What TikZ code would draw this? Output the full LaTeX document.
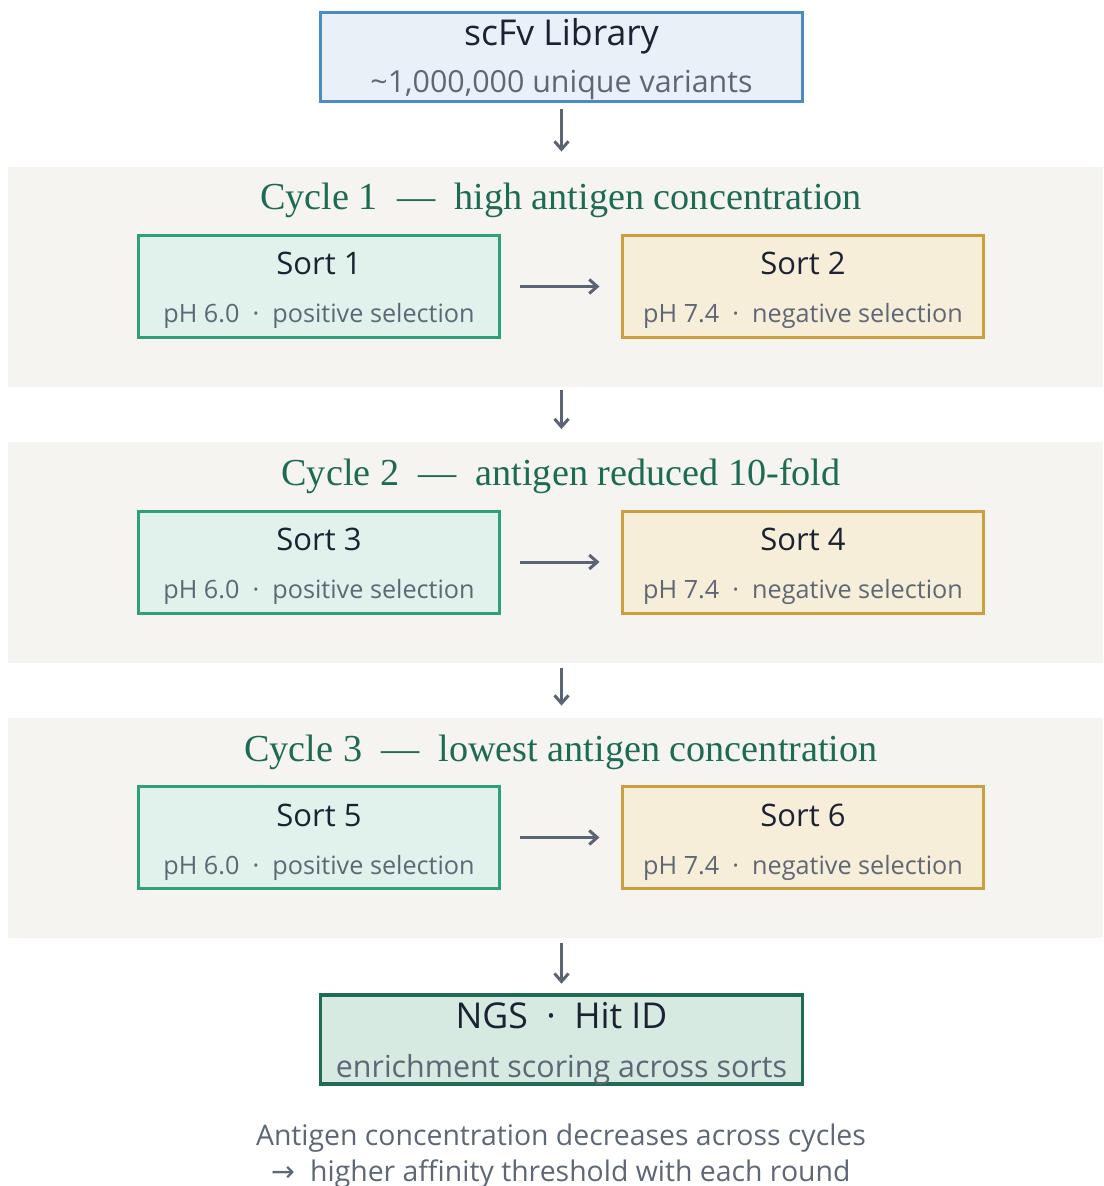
\documentclass[tikz,border=0pt]{standalone}
\usepackage{fontspec}
\setmainfont{Open Sans}
\newfontfamily\serifttl{Liberation Serif}
\newfontfamily\arrowfont{DejaVu Sans}
\usetikzlibrary{arrows.meta}

\definecolor{libline}{HTML}{4A8BC4}
\definecolor{libfill}{HTML}{E9F0F7}
\definecolor{posline}{HTML}{2FA07C}
\definecolor{posfill}{HTML}{E1F2EC}
\definecolor{negline}{HTML}{CB9E3E}
\definecolor{negfill}{HTML}{F7EED9}
\definecolor{ngsline}{HTML}{1F6B55}
\definecolor{ngsfill}{HTML}{D6EAE1}
\definecolor{bandfill}{HTML}{F5F4F0}
\definecolor{ttlgreen}{HTML}{1E6B55}
\definecolor{ink}{HTML}{1A2233}
\definecolor{subgray}{HTML}{5E6776}
\definecolor{arrgray}{HTML}{5A6475}

\begin{document}
\begin{tikzpicture}[x=0.5pt, y=-0.5pt,
  libbox/.style={rectangle, draw=libline, fill=libfill, line width=1.5pt,
                 minimum width=241pt, minimum height=44.5pt, inner sep=0pt},
  ngsbox/.style={libbox, draw=ngsline, fill=ngsfill, line width=1.75pt},
  posbox/.style={rectangle, draw=posline, fill=posfill, line width=1.5pt,
                 minimum width=180.5pt, minimum height=51pt, inner sep=0pt},
  negbox/.style={posbox, draw=negline, fill=negfill},
  band/.style={rectangle, fill=bandfill, minimum width=547.5pt,
               minimum height=110pt, inner sep=0pt},
  head/.style={anchor=base, inner sep=0pt, text=ink, font=\fontsize{15.5}{18}\selectfont},
  bighead/.style={head, font=\fontsize{17.8}{21}\selectfont},
  sub/.style={anchor=base, inner sep=0pt, text=subgray, font=\fontsize{12.6}{15}\selectfont},
  bigsub/.style={sub, font=\fontsize{15.2}{18}\selectfont},
  cyc/.style={anchor=base, inner sep=0pt, text=ttlgreen,
              font=\serifttl\fontsize{19.1}{22}\selectfont},
  flow/.style={-{Straight Barb[length=4pt,width=7pt]}, line width=1.5pt, draw=arrgray}]

\useasboundingbox (0,0) rectangle (1103,1186);

%% library
\node[libbox] (lib) at (561.5,57) {};
\node[bighead] (libt) at (561.5,46) {scFv Library};
\node[bigsub] (libs) at (561.5,93) {\textasciitilde1,000,000 unique variants};

%% three sorting cycles
\foreach \c/\yc/\ttl/\na/\nb in {1/277/{high antigen concentration}/1/2,
                                 2/552.5/{antigen reduced 10-fold}/3/4,
                                 3/828/{lowest antigen concentration}/5/6}{
  \node[band] (band\c) at (555.5,\yc) {};
  \node[cyc] (cyc\c) at (561,\yc-67) {Cycle \c\enspace—\enspace\ttl};
  \node[posbox] (sort\na) at (319,\yc+9.5) {};
  \node[negbox] (sort\nb) at (803,\yc+9.5) {};
  \node[head] (sort\na t) at (319,\yc-2) {Sort \na};
  \node[head] (sort\nb t) at (803,\yc-2) {Sort \nb};
  \node[sub] (sort\na s) at (319,\yc+46) {pH 6.0\ \ ·\ \ positive selection};
  \node[sub] (sort\nb s) at (803,\yc+46) {pH 7.4\ \ ·\ \ negative selection};
  \draw[flow, shorten <=9.25pt, shorten >=10.75pt] (sort\na) -- (sort\nb);
}

%% hit identification
\node[ngsbox] (ngs) at (561.5,1039.5) {};
\node[bighead] (ngst) at (561.5,1028) {NGS\ \ ·\ \ Hit ID};
\node[bigsub] (ngss) at (561.5,1077) {enrichment scoring across sorts};

\draw[flow, shorten <=3.25pt, shorten >=7.5pt] (lib.south) -- (lib.south |- band1.north);
\draw[flow, shorten <=1.5pt, shorten >=6.5pt] (lib.south |- band1.south) -- (lib.south |- band2.north);
\draw[flow, shorten <=2.5pt, shorten >=6pt] (lib.south |- band2.south) -- (lib.south |- band3.north);
\draw[flow, shorten <=2.5pt, shorten >=4.75pt] (lib.south |- band3.south) -- (ngs.north);

%% note
\node[sub, font=\fontsize{14.2}{17}\selectfont] (note1) at (561,1145)
  {Antigen concentration decreases across cycles};
\node[sub, font=\fontsize{14.2}{17}\selectfont] (note2) at (561,1181)
  {{\arrowfont →}\ \ higher affinity threshold with each round};
\end{tikzpicture}
\end{document}
